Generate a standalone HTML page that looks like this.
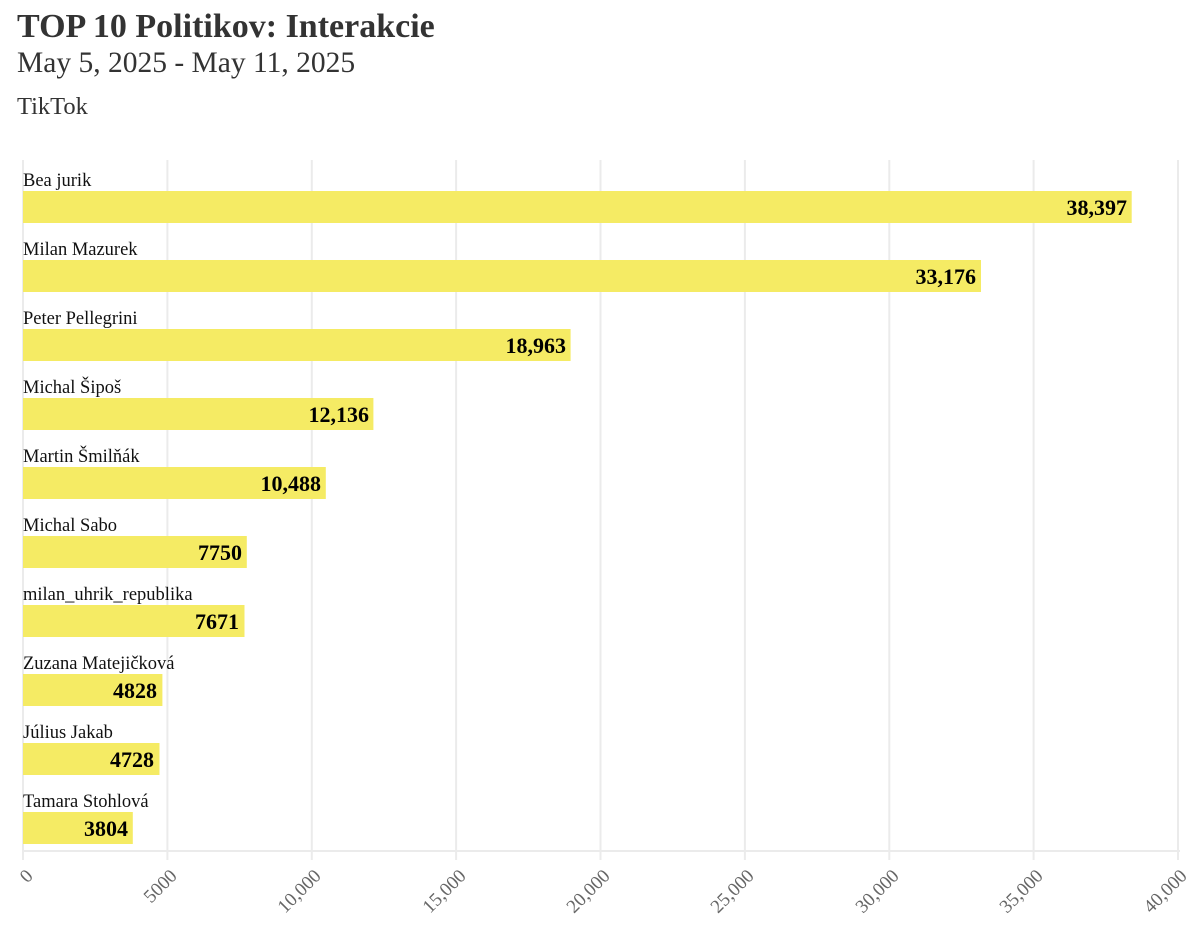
<!DOCTYPE html>
<html><head><meta charset="utf-8"><style>
body{margin:0;background:#fff;}
svg{display:block;font-family:"Liberation Serif",serif;}
</style></head><body>
<svg width="1200" height="930" xmlns="http://www.w3.org/2000/svg">
<text x="17" y="37" font-size="34" font-weight="bold" fill="#333">TOP 10 Politikov: Interakcie</text>
<text x="17" y="72" font-size="29.5" fill="#333">May 5, 2025 - May 11, 2025</text>
<text x="17" y="114" font-size="24.5" fill="#333">TikTok</text>
<g stroke="#ebebeb" stroke-width="2">
<line x1="23" y1="160" x2="23" y2="860"/>
<line x1="167.4" y1="160" x2="167.4" y2="860"/>
<line x1="311.8" y1="160" x2="311.8" y2="860"/>
<line x1="456.1" y1="160" x2="456.1" y2="860"/>
<line x1="600.5" y1="160" x2="600.5" y2="860"/>
<line x1="744.9" y1="160" x2="744.9" y2="860"/>
<line x1="889.3" y1="160" x2="889.3" y2="860"/>
<line x1="1033.6" y1="160" x2="1033.6" y2="860"/>
<line x1="1178" y1="160" x2="1178" y2="860"/>
<line x1="23" y1="851" x2="1180" y2="851"/>
</g>
<g fill="#f5eb64">
<rect x="23" y="191" width="1108.7" height="32"/>
<rect x="23" y="260" width="958" height="32"/>
<rect x="23" y="329" width="547.6" height="32"/>
<rect x="23" y="398" width="350.4" height="32"/>
<rect x="23" y="467" width="302.8" height="32"/>
<rect x="23" y="536" width="223.8" height="32"/>
<rect x="23" y="605" width="221.5" height="32"/>
<rect x="23" y="674" width="139.4" height="32"/>
<rect x="23" y="743" width="136.5" height="32"/>
<rect x="23" y="812" width="109.8" height="32"/>
</g>
<g font-size="18.5" fill="#111">
<text x="23" y="186">Bea jurik</text>
<text x="23" y="255">Milan Mazurek</text>
<text x="23" y="324">Peter Pellegrini</text>
<text x="23" y="393">Michal Šipoš</text>
<text x="23" y="462">Martin Šmilňák</text>
<text x="23" y="531">Michal Sabo</text>
<text x="23" y="600">milan_uhrik_republika</text>
<text x="23" y="669">Zuzana Matejičková</text>
<text x="23" y="738">Július Jakab</text>
<text x="23" y="807">Tamara Stohlová</text>
</g>
<g font-size="22" font-weight="bold" fill="#000" text-anchor="end">
<text x="1127" y="215">38,397</text>
<text x="976" y="284">33,176</text>
<text x="566" y="353">18,963</text>
<text x="369" y="422">12,136</text>
<text x="321" y="491">10,488</text>
<text x="242" y="560">7750</text>
<text x="239" y="629">7671</text>
<text x="157" y="698">4828</text>
<text x="154" y="767">4728</text>
<text x="128" y="836">3804</text>
</g>
<g font-size="19" fill="#666" text-anchor="end">
<text transform="translate(34,877) rotate(-45)">0</text>
<text transform="translate(178,877) rotate(-45)">5000</text>
<text transform="translate(322,877) rotate(-45)">10,000</text>
<text transform="translate(467,877) rotate(-45)">15,000</text>
<text transform="translate(611,877) rotate(-45)">20,000</text>
<text transform="translate(755,877) rotate(-45)">25,000</text>
<text transform="translate(900,877) rotate(-45)">30,000</text>
<text transform="translate(1044,877) rotate(-45)">35,000</text>
<text transform="translate(1188,877) rotate(-45)">40,000</text>
</g>
</svg>
</body></html>
